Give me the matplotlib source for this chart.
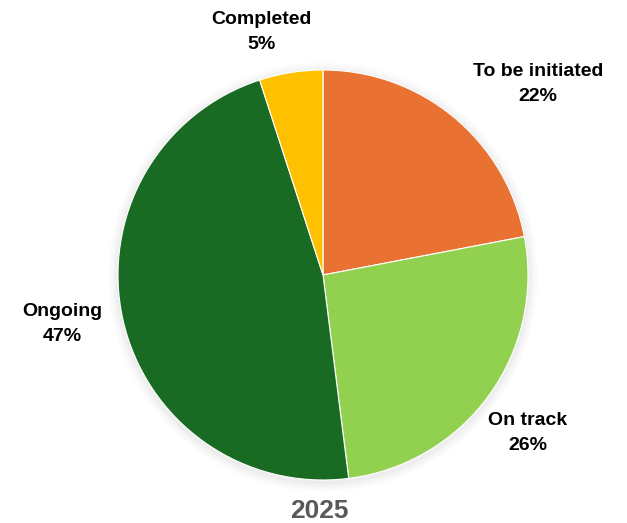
import matplotlib.pyplot as plt

# Status shares for 2025, clockwise from 12 o'clock
labels = ['To be initiated', 'On track', 'Ongoing', 'Completed']
shares = [22, 26, 47, 5]
colors = ['#E97132', '#92D050', '#196B24', '#FFC000']

# Where each label sits (data coords, pie radius = 1)
label_pos = [(1.05, 0.93), (1.00, -0.77), (-1.27, -0.24), (-0.30, 1.185)]

fig = plt.figure(figsize=(6.27, 5.23), dpi=100)
# Axes placed so that the pie centre is at (323, 275) px with radius 205 px
W, H = 627, 523
cx, cy, r = 323, 275, 205
ax = fig.add_axes([(cx - 1.4 * r) / W, (H - cy - 1.4 * r) / H, 2.8 * r / W, 2.8 * r / H])

# Soft shadow around the pie
for i, a in enumerate([0.025, 0.02, 0.015, 0.01]):
    ax.add_patch(plt.Circle((0, -0.01), 1 + 0.012 * (i + 1), color='black', alpha=a, lw=0))

ax.pie(shares, colors=colors, startangle=90, counterclock=False, radius=1,
       wedgeprops=dict(edgecolor='white', linewidth=0.8))

for lab, val, (x, y) in zip(labels, shares, label_pos):
    ax.text(x, y, f'{lab}\n{val}%', ha='center', va='center', fontsize=14,
            fontweight='bold', family='Liberation Sans', color='black', linespacing=1.6)

ax.text(-0.02, -1.15, '2025', ha='center', va='center', fontsize=19,
        fontweight='bold', family='Liberation Sans', color='#595959')

ax.set_xlim(-1.4, 1.4)
ax.set_ylim(-1.4, 1.4)
ax.set_aspect('equal')
ax.axis('off')

fig.savefig('out.png', dpi=100)
